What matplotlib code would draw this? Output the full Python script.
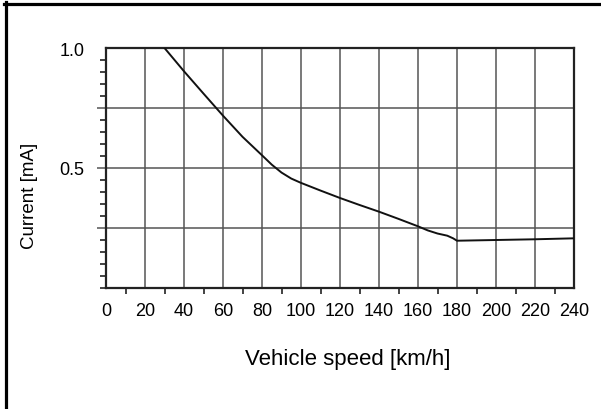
import matplotlib
matplotlib.use("Agg")
import matplotlib.pyplot as plt
from matplotlib.lines import Line2D
from matplotlib.ticker import MultipleLocator

plt.rcParams['font.family'] = ['Liberation Sans', 'DejaVu Sans']

# values
speed = [30, 40, 50, 60, 70, 80, 85, 90, 95, 100, 110, 120, 130, 140, 150,
         160, 165, 170, 175, 178, 180, 200, 220, 240]
current = [1.0, 0.903, 0.81, 0.718, 0.63, 0.553, 0.514, 0.481, 0.456, 0.438,
           0.406, 0.375, 0.346, 0.318, 0.288, 0.257, 0.24, 0.227, 0.218,
           0.207, 0.197, 0.200, 0.203, 0.207]

x_ticks = list(range(0, 241, 20))
y_ticks = [0.25, 0.5, 0.75, 1.0]
y_labels = ['', '0.5', '', '1.0']

fig = plt.figure(figsize=(6.01, 4.10), dpi=100)
ax = fig.add_axes([106 / 601, 1 - 289 / 410, 468 / 601, 240 / 410])

ax.plot(speed, current, color='#111111', lw=1.4, zorder=3)

ax.set_xlim(0, 240)
ax.set_ylim(0, 1.0)
ax.set_xticks(x_ticks)
ax.set_yticks(y_ticks)
ax.set_yticklabels(y_labels)
ax.xaxis.set_minor_locator(MultipleLocator(10))
ax.yaxis.set_minor_locator(MultipleLocator(0.05))

ax.grid(True, which='major', color='#555555', lw=1.1)
ax.set_axisbelow(True)

ax.tick_params(axis='x', which='major', length=0, pad=10, labelsize=13)
ax.tick_params(axis='x', which='minor', direction='out', length=4, width=1.2, color='#222222')
ax.tick_params(axis='y', which='major', direction='out', length=6.5, width=1.1,
               color='#555555', pad=9, labelsize=13)
ax.tick_params(axis='y', which='minor', direction='out', length=4, width=1.2, color='#222222')
ax.yaxis.get_major_ticks()[3].tick1line.set_visible(False)

for s in ax.spines.values():
    s.set_linewidth(1.6)
    s.set_color('#222222')

fig.text(30 / 601, 1 - 196 / 410, 'Current [mA]', rotation=90,
         ha='center', va='center', fontsize=13.5)
fig.text(348 / 601, 1 - 360 / 410, 'Vehicle speed [km/h]',
         ha='center', va='center', fontsize=16)

# outer frame: only left and top edges are visible
fig.add_artist(Line2D([5.5 / 601, 5.5 / 601], [0, 1 - 3 / 410],
                      transform=fig.transFigure, color='black', lw=2.3))
fig.add_artist(Line2D([4 / 601, 1], [1 - 4.7 / 410, 1 - 4.7 / 410],
                      transform=fig.transFigure, color='black', lw=2.3))

fig.savefig('out.png', dpi=100)
